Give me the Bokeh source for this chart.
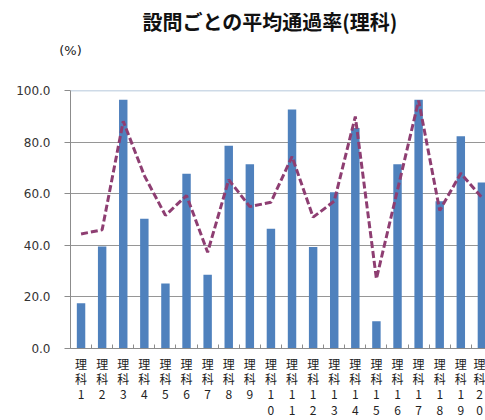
from bokeh.plotting import figure
from bokeh.models import (Range1d, FixedTicker, PrintfTickFormatter, Span, Title,
                          ColumnDataSource, LinearAxis)
from bokeh.embed import file_html
from bokeh.resources import INLINE

# ---- data ----
categories = ["理科1", "理科2", "理科3", "理科4", "理科5", "理科6", "理科7", "理科8",
              "理科9", "理科10", "理科11", "理科12", "理科13", "理科14", "理科15",
              "理科16", "理科17", "理科18", "理科19", "理科20"]
school_rate = [17.5, 39.5, 96.4, 50.3, 25.2, 67.7, 28.6, 78.6, 71.4, 46.4,
               92.6, 39.3, 60.6, 85.5, 10.6, 71.4, 96.4, 57.1, 82.3, 64.3]
average_rate = [44.4, 46.0, 88.1, 67.0, 51.6, 59.3, 37.3, 65.4, 55.0, 56.7,
                74.4, 50.9, 57.1, 89.9, 27.0, 61.5, 96.1, 53.5, 67.9, 58.5]
y_ticks = [0, 20, 40, 60, 80, 100]
title_text = "設問ごとの平均通過率(理科)"
unit_text = "(%)"

xs = list(range(1, len(categories) + 1))
src = ColumnDataSource(dict(x=xs, rate=school_rate, avg=average_rate))

p = figure(width=485, height=420, output_backend="svg", toolbar_location=None,
           x_range=Range1d(0.5, 20.17), y_range=Range1d(0, 100),
           min_border_left=70, min_border_right=0, min_border_top=90,
           min_border_bottom=72, title=None)
p.outline_line_color = None
p.background_fill_color = "white"
p.border_fill_color = "white"

p.vbar(x="x", top="rate", width=0.4, bottom=0, source=src,
       fill_color="#4F81BD", line_color=None)
p.line(x="x", y="avg", source=src, line_color="#8E3E72", line_width=3,
       line_dash="7 3")

# y axis
p.yaxis.ticker = FixedTicker(ticks=y_ticks)
p.yaxis.formatter = PrintfTickFormatter(format="%.1f")
p.yaxis.axis_line_color = "#8C8C8C"
p.yaxis.major_tick_line_color = "#8C8C8C"
p.yaxis.major_tick_out = 6
p.yaxis.major_tick_in = 0
p.yaxis.minor_tick_line_color = None
p.yaxis.major_label_standoff = 14
p.yaxis.major_label_text_font = "DejaVu Sans"
p.yaxis.major_label_text_font_size = "12px"
p.yaxis.major_label_text_color = "#333333"

# x axis: vertical multi-line category labels
p.xaxis.ticker = FixedTicker(ticks=xs, minor_ticks=[x - 0.5 for x in xs] + [xs[-1] + 0.5])
p.xaxis.major_label_overrides = {x: "\n".join(list(c)) for x, c in zip(xs, categories)}
p.xaxis.axis_line_color = "#8C8C8C"
p.xaxis.major_tick_line_color = None
p.xaxis.major_tick_in = 0
p.xaxis.major_tick_out = 0
p.xaxis.minor_tick_line_color = "#8C8C8C"
p.xaxis.minor_tick_in = 4
p.xaxis.minor_tick_out = 0
p.xaxis.major_label_standoff = 6
p.xaxis.major_label_text_font = "Noto Sans CJK JP"
p.xaxis.major_label_text_font_size = "12px"
p.xaxis.major_label_text_line_height = 0.91
p.xaxis.major_label_text_color = "#222222"
p.xaxis.major_label_orientation = "horizontal"

p.xgrid.grid_line_color = None
p.ygrid.ticker = FixedTicker(ticks=y_ticks[1:-1])
p.ygrid.grid_line_color = "#969696"
p.ygrid.grid_line_width = 1
p.add_layout(Span(location=y_ticks[-1], dimension="width",
                  line_color="#9DB6CF", line_width=1.5))

# unit "(%)" as the label of a bare axis above the frame
unit_axis = LinearAxis(ticker=FixedTicker(ticks=[]), axis_label=unit_text,
                       axis_label_align="start", axis_label_standoff=33,
                       axis_label_text_font="DejaVu Sans",
                       axis_label_text_font_size="13px",
                       axis_label_text_font_style="normal",
                       axis_label_text_color="#222222",
                       axis_line_color=None, major_tick_line_color=None,
                       minor_tick_line_color=None, major_tick_out=0,
                       minor_tick_out=0, major_label_standoff=0)
p.add_layout(unit_axis, "above")

# main title above it
p.add_layout(Title(text=title_text, align="left", offset=72, standoff=4,
                   vertical_align="top",
                   text_font="Noto Sans CJK JP", text_font_size="20px",
                   text_font_style="bold", text_color="#111111"), "above")

open("out.html", "w").write(file_html(p, INLINE))
